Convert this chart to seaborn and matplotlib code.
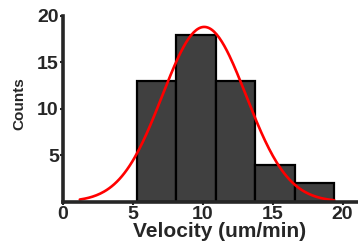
# %% Velocity histogram with normal fit
import numpy as np
import pandas as pd
import matplotlib
matplotlib.use('Agg')
import matplotlib.pyplot as plt
import seaborn as sns

# %% Data
bin_edges = [5.26, 8.09, 10.92, 13.75, 16.58, 19.41]
counts = [13, 18, 13, 4, 2]
fit_mean = 10.1   # gaussian fit centre (um/min)
fit_sd = 3.0      # gaussian fit width
curve_range = [1.2, 19.4]
x_ticks = [0, 5, 10, 15, 20]
y_ticks = [5, 10, 15, 20]

centers = [(a + b) / 2 for a, b in zip(bin_edges[:-1], bin_edges[1:])]
df = pd.DataFrame({'Velocity': centers, 'Counts': counts})

# fitted normal curve scaled to the histogram
binw = bin_edges[1] - bin_edges[0]
xs = np.linspace(curve_range[0], curve_range[1], 200)
ys = sum(counts) * binw / (fit_sd * np.sqrt(2 * np.pi)) * np.exp(-(xs - fit_mean) ** 2 / (2 * fit_sd ** 2))
curve = pd.DataFrame({'x': xs, 'y': ys})

# %% Plot
sns.set_style('ticks')
plt.rcParams['font.family'] = ['Liberation Sans', 'DejaVu Sans']
plt.rcParams['font.weight'] = 'bold'

fig = plt.figure(figsize=(3.58, 2.49), dpi=100)
ax = fig.add_axes([0.176, 0.19, 0.824, 0.746])

sns.histplot(data=df, x='Velocity', weights='Counts', bins=bin_edges, ax=ax,
             color='#404040', edgecolor='black', linewidth=1.6, alpha=1)
sns.lineplot(data=curve, x='x', y='y', ax=ax, color='#ff0000', linewidth=1.9)

ax.set_xlim(0, 21.1)
ax.set_ylim(0, 20)
ax.set_xticks(x_ticks)
ax.set_yticks(y_ticks)
ax.tick_params(labelsize=14, length=2, width=1.5, pad=1)
for lab in ax.get_xticklabels() + ax.get_yticklabels():
    lab.set_fontweight('bold')

ax.set_xlabel('Velocity (um/min)', fontsize=15, fontweight='bold')
ax.set_ylabel('Counts', fontsize=11, fontweight='bold')
ax.xaxis.set_label_coords(0.53, -0.11)
ax.yaxis.set_label_coords(-0.125, 0.53)

sns.despine(ax=ax)
for side in ['left', 'bottom']:
    ax.spines[side].set_linewidth(2.6)

plt.savefig('out.png', dpi=100)
